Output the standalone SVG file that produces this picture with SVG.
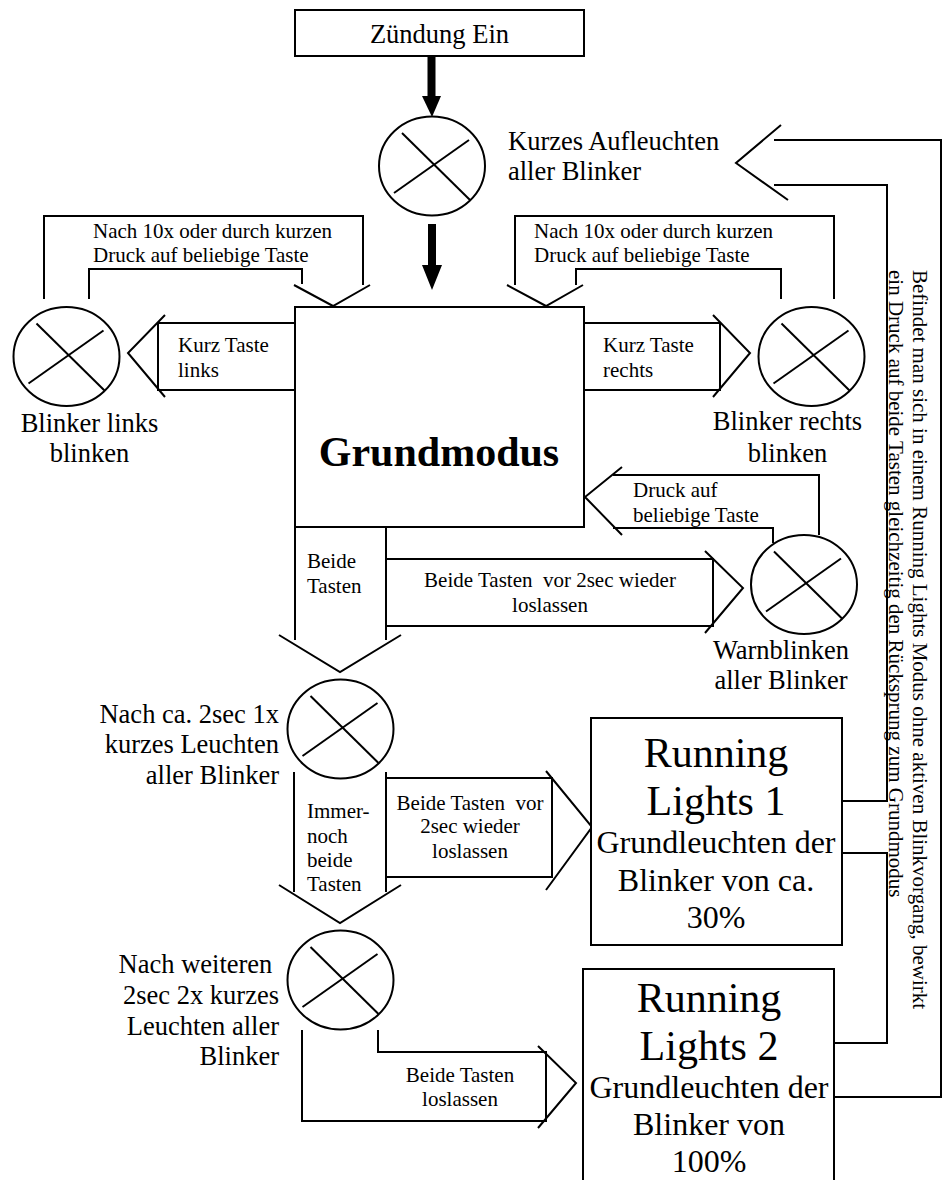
<svg xmlns="http://www.w3.org/2000/svg" xmlns:xlink="http://www.w3.org/1999/xlink" width="947" height="1180" viewBox="0 0 947 1180">
<style>
.ln{fill:none;stroke:#000;stroke-width:2;stroke-linejoin:miter}
.box{fill:#fff;stroke:#000;stroke-width:2}
.t{font-family:"Liberation Serif","Times New Roman",serif;fill:#000}
.big{font-size:26.5px}
.sm{font-size:21px}
.rlt{font-size:42px}
.rls{font-size:32px}
.gm{font-size:42px;font-weight:bold}
.c{text-anchor:middle}
.r{text-anchor:end}
</style>
<defs>
<g id="lamp">
<ellipse cx="0" cy="0" rx="53" ry="49.5" fill="#fff" stroke="#000" stroke-width="2"/>
<line x1="-30" y1="-33" x2="38" y2="34" stroke="#000" stroke-width="2"/>
<line x1="-38" y1="27" x2="37" y2="-26" stroke="#000" stroke-width="2"/>
</g>
</defs>
<rect width="947" height="1180" fill="#fff"/>

<g id="connectors">
<!-- thick arrows -->
<rect x="427.5" y="56" width="8" height="42" fill="#000"/>
<polygon points="422,96 441,96 432,117" fill="#000"/>
<rect x="428" y="224" width="8" height="42" fill="#000"/>
<polygon points="422,265 442,265 432,290" fill="#000"/>
<!-- return to start lamp from running lights -->
<polyline class="ln" points="774,140 941,140 941,1097 834,1097"/>
<polyline class="ln" points="774,185 887,185 887,801 842,801"/>
<polyline class="ln" points="842,853 887,853 887,1043 834,1043"/>
<polyline class="ln" points="781,125 736,163 788,200"/>
<text class="t sm" transform="translate(913,270) rotate(90)">Befindet man sich in einem Running Lights Modus ohne aktiven Blinkvorgang, bewirkt</text>
<text class="t sm" transform="translate(889,270) rotate(90)">ein Druck auf beide Tasten gleichzeitig den Rücksprung zum Grundmodus</text>
<!-- left loop -->
<polyline class="ln" points="44,299 44,216 363,216 363,285"/>
<polyline class="ln" points="89,299 89,269 302,269 302,284"/>
<polyline class="ln" points="294,285 333,306 370,285"/>
<text class="t sm" x="93" y="238">Nach 10x oder durch kurzen</text>
<text class="t sm" x="93" y="262">Druck auf beliebige Taste</text>
<!-- right loop -->
<polyline class="ln" points="515,285 515,216 834,216 834,299"/>
<polyline class="ln" points="576,285 576,269 781,269 781,299"/>
<polyline class="ln" points="507,285 546,306 583,285"/>
<text class="t sm" x="534" y="238">Nach 10x oder durch kurzen</text>
<text class="t sm" x="534" y="262">Druck auf beliebige Taste</text>
<!-- Kurz Taste links -->
<polyline class="ln" points="295,323 158,323 158,390 295,390"/>
<polyline class="ln" points="165,315 128,353 165,397"/>
<text class="t sm" x="178" y="352">Kurz Taste</text>
<text class="t sm" x="178" y="377">links</text>
<!-- Kurz Taste rechts -->
<polyline class="ln" points="584,323 720,323 720,390 584,390"/>
<polyline class="ln" points="713,315 750,353 713,397"/>
<text class="t sm" x="603" y="352">Kurz Taste</text>
<text class="t sm" x="603" y="377">rechts</text>
<!-- Druck auf beliebige Taste -->
<polyline class="ln" points="613,475 819,475 819,535"/>
<polyline class="ln" points="613,528 773,528 773,543"/>
<polyline class="ln" points="622,467 585,497 622,535"/>
<text class="t sm" x="633" y="497">Druck auf</text>
<text class="t sm" x="633" y="522">beliebige Taste</text>
<!-- Beide Tasten down -->
<line class="ln" x1="295" y1="527" x2="295" y2="640"/>
<line class="ln" x1="386" y1="527" x2="386" y2="640"/>
<polyline class="ln" points="279,635 340,672 401,635"/>
<text class="t sm" x="307" y="568">Beide</text>
<text class="t sm" x="307" y="593">Tasten</text>
<!-- Beide Tasten vor 2sec -> Warnblinken -->
<polyline class="ln" points="386,559 713,559 713,626 386,626"/>
<polyline class="ln" points="705,551 743,588 705,633"/>
<text class="t sm c" x="550" y="587" xml:space="preserve">Beide Tasten  vor 2sec wieder</text>
<text class="t sm c" x="550" y="612">loslassen</text>
<!-- Immer-noch beide Tasten down -->
<line class="ln" x1="294" y1="772" x2="294" y2="892"/>
<line class="ln" x1="386" y1="772" x2="386" y2="892"/>
<polyline class="ln" points="279,885 340,923 401,885"/>
<text class="t sm" x="307" y="818">Immer-</text>
<text class="t sm" x="307" y="843">noch</text>
<text class="t sm" x="307" y="867">beide</text>
<text class="t sm" x="307" y="891">Tasten</text>
<!-- -> Running Lights 1 -->
<polyline class="ln" points="386,778 552,778 552,877 386,877"/>
<polyline class="ln" points="546,771 592,827 546,890"/>
<text class="t sm c" x="470" y="810" xml:space="preserve">Beide Tasten  vor</text>
<text class="t sm c" x="470" y="833">2sec wieder</text>
<text class="t sm c" x="470" y="858">loslassen</text>
<!-- -> Running Lights 2 -->
<polyline class="ln" points="378,1030 378,1052 546,1052 546,1121 302,1121 302,1030"/>
<polyline class="ln" points="538,1046 576,1083 538,1128"/>
<text class="t sm c" x="460" y="1082">Beide Tasten</text>
<text class="t sm c" x="460" y="1106">loslassen</text>
</g>

<g id="n_zuendung">
<rect class="box" x="295" y="10" width="289" height="46"/>
<text class="t big c" x="439.5" y="43">Zündung Ein</text>
</g>

<g id="n_start_lamp">
<use xlink:href="#lamp" x="432" y="166"/>
<text class="t big" x="508" y="150">Kurzes Aufleuchten</text>
<text class="t big" x="508" y="180">aller Blinker</text>
</g>

<g id="n_grundmodus">
<rect class="box" x="295" y="307" width="289" height="220"/>
<text class="t gm c" x="439" y="466">Grundmodus</text>
</g>

<g id="n_blinker_links">
<use xlink:href="#lamp" x="66.5" y="356.5"/>
<text class="t big c" x="89.5" y="432">Blinker links</text>
<text class="t big c" x="89.5" y="462">blinken</text>
</g>

<g id="n_blinker_rechts">
<use xlink:href="#lamp" x="811.5" y="356.5"/>
<text class="t big c" x="787.5" y="430">Blinker rechts</text>
<text class="t big c" x="787.5" y="462">blinken</text>
</g>

<g id="n_warnblinken">
<use xlink:href="#lamp" x="804" y="584.5"/>
<text class="t big c" x="781" y="659">Warnblinken</text>
<text class="t big c" x="781" y="689">aller Blinker</text>
</g>

<g id="n_lamp_2sec">
<use xlink:href="#lamp" x="340.5" y="729"/>
<text class="t big r" x="279" y="723">Nach ca. 2sec 1x</text>
<text class="t big r" x="279" y="753">kurzes Leuchten</text>
<text class="t big r" x="279" y="784">aller Blinker</text>
</g>

<g id="n_lamp_weitere">
<use xlink:href="#lamp" x="340.5" y="980"/>
<text class="t big r" x="279" y="973" xml:space="preserve">Nach weiteren </text>
<text class="t big r" x="279" y="1004">2sec 2x kurzes</text>
<text class="t big r" x="279" y="1035">Leuchten aller</text>
<text class="t big r" x="279" y="1065">Blinker</text>
</g>

<g id="n_rl1">
<rect class="box" x="591" y="718" width="251" height="227"/>
<text class="t rlt c" x="716" y="767">Running</text>
<text class="t rlt c" x="716" y="815">Lights 1</text>
<text class="t rls c" x="716" y="853">Grundleuchten der</text>
<text class="t rls c" x="716" y="891">Blinker von ca.</text>
<text class="t rls c" x="716" y="928">30%</text>
</g>

<g id="n_rl2">
<rect class="box" x="583" y="969" width="251" height="260"/>
<text class="t rlt c" x="709" y="1012">Running</text>
<text class="t rlt c" x="709" y="1060">Lights 2</text>
<text class="t rls c" x="709" y="1098">Grundleuchten der</text>
<text class="t rls c" x="709" y="1135">Blinker von</text>
<text class="t rls c" x="709" y="1172">100%</text>
</g>
</svg>
